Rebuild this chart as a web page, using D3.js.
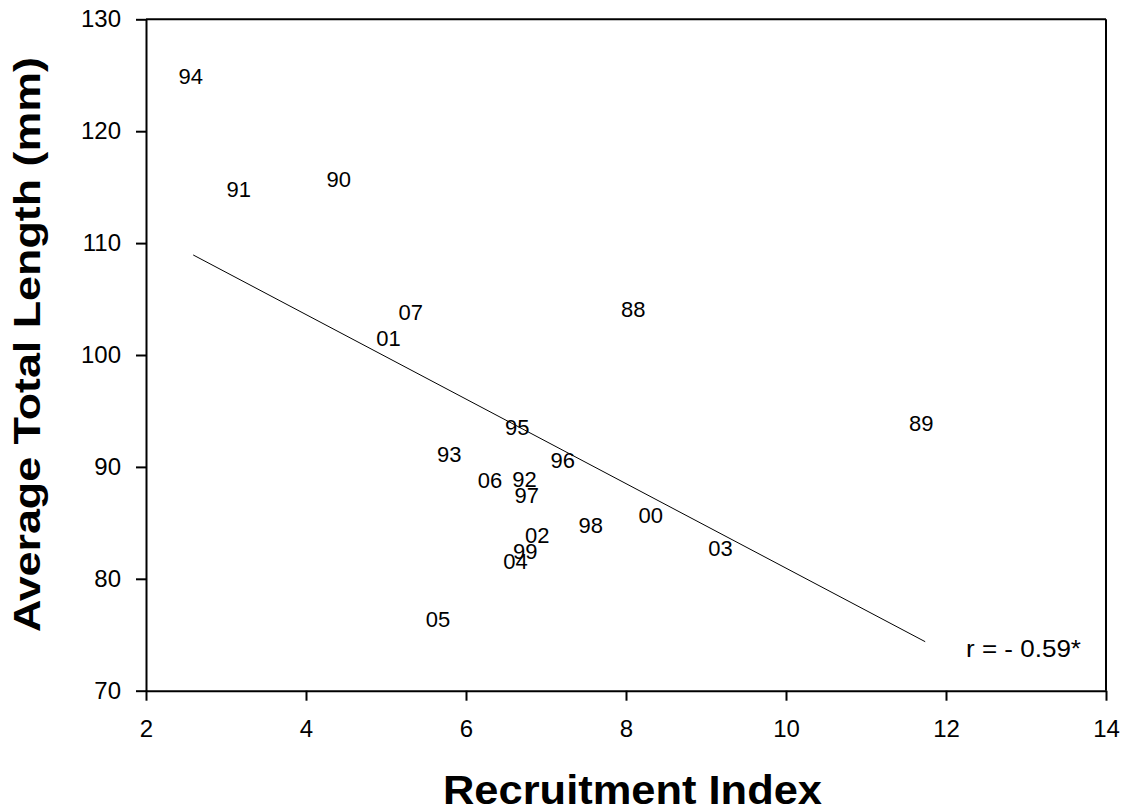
<!DOCTYPE html>
<html><head><meta charset="utf-8">
<script src="https://cdn.jsdelivr.net/npm/d3@7"></script>
<style>body{margin:0;background:#fff}svg{display:block}text{font-family:Arial,"Liberation Sans",sans-serif}</style>
</head><body>
<script>
const years = ["94","91","90","07","01","88","89","95","93","96","06","92","97","00","98","02","99","04","03","05"];
const recruit = [2.56,3.16,4.41,5.31,5.03,8.09,11.69,6.64,5.79,7.21,6.30,6.73,6.76,8.31,7.56,6.89,6.74,6.62,9.18,5.65];
const lengthMm = [124.9,114.8,115.75,103.84,101.49,104.14,93.94,93.57,91.18,90.64,88.86,88.9,87.5,85.67,84.83,83.94,82.46,81.62,82.75,76.38];
const fitX = [2.59, 11.74];
const fitY = [108.94, 74.38];
const xTicks = [2,4,6,8,10,12,14];
const yTicks = [70,80,90,100,110,120,130];

const W=1129,H=812;
const svg=d3.select("body").append("svg").attr("width",W).attr("height",H);
const x=d3.scaleLinear().domain([2,14]).range([146,1106]);
const y=d3.scaleLinear().domain([70,130]).range([690.7,19.3]);

const xa=svg.append("g").attr("transform",`translate(0,${y(70)})`)
  .call(d3.axisBottom(x).tickValues(xTicks).tickSize(10).tickPadding(19).tickSizeOuter(0));
const ya=svg.append("g").attr("transform",`translate(${x(2)},0)`)
  .call(d3.axisLeft(y).tickValues(yTicks).tickSize(10).tickPadding(15).tickSizeOuter(0));
[xa,ya].forEach(a=>{
  a.attr("font-size",null).attr("font-family",null);
  a.selectAll("path,line").attr("stroke","#000").attr("stroke-width",2);
  a.selectAll("text").attr("font-size",24).attr("fill","#000");
});
svg.append("line").attr("x1",x(2)).attr("x2",x(14)).attr("y1",y(130)).attr("y2",y(130)).attr("stroke","#000").attr("stroke-width",2);
svg.append("line").attr("x1",x(14)).attr("x2",x(14)).attr("y1",y(130)).attr("y2",y(70)).attr("stroke","#000").attr("stroke-width",2);

svg.append("line").attr("x1",x(fitX[0])).attr("y1",y(fitY[0])).attr("x2",x(fitX[1])).attr("y2",y(fitY[1]))
  .attr("stroke","#000").attr("stroke-width",1);

svg.append("g").selectAll("text").data(years).join("text")
  .attr("x",(d,i)=>x(recruit[i])).attr("y",(d,i)=>y(lengthMm[i]))
  .attr("text-anchor","middle").attr("dy","0.36em").attr("font-size",22).text(d=>d);

svg.append("text").attr("x",966).attr("y",657).attr("font-size",24)
  .attr("textLength",115).attr("lengthAdjust","spacingAndGlyphs").text("r = - 0.59*");

svg.append("text").attr("x",443).attr("y",804)
  .attr("font-size",40).attr("font-weight","bold")
  .attr("textLength",379).attr("lengthAdjust","spacingAndGlyphs").text("Recruitment Index");
svg.append("text").attr("transform",`translate(40,632) rotate(-90)`)
  .attr("font-size",36).attr("font-weight","bold")
  .attr("textLength",575).attr("lengthAdjust","spacingAndGlyphs").text("Average Total Length (mm)");
</script>
</body></html>
